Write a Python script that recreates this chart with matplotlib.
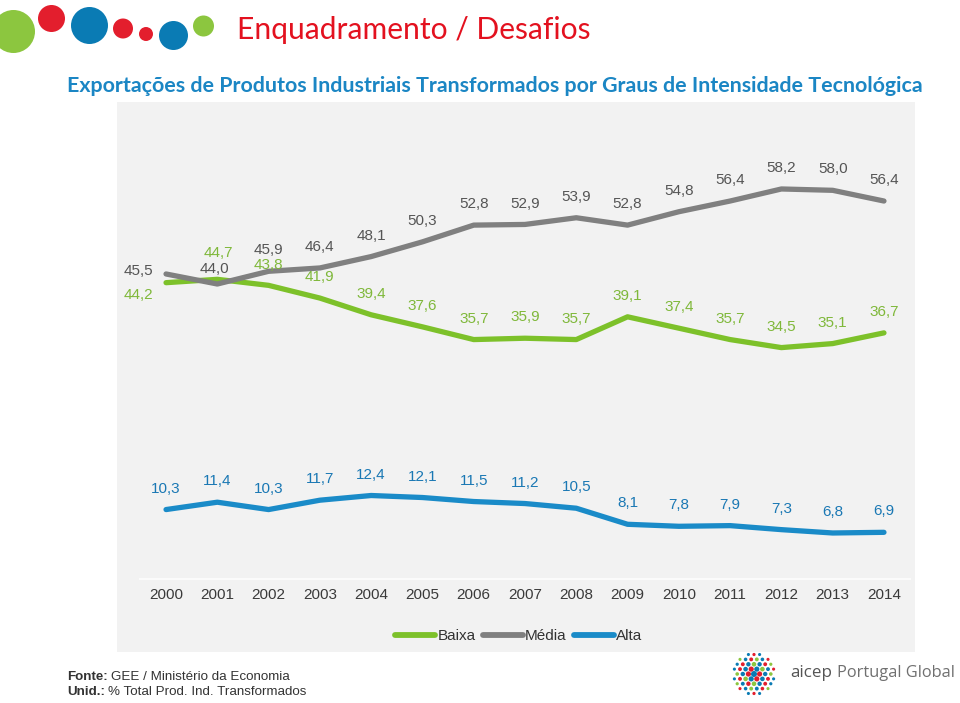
import matplotlib
matplotlib.use('Agg')
import matplotlib.pyplot as plt
from matplotlib.patches import Rectangle, Circle
import numpy as np

# ---------------- data ----------------
years = ['2000', '2001', '2002', '2003', '2004', '2005', '2006', '2007',
         '2008', '2009', '2010', '2011', '2012', '2013', '2014']
baixa = [44.2, 44.7, 43.8, 41.9, 39.4, 37.6, 35.7, 35.9, 35.7, 39.1, 37.4, 35.7, 34.5, 35.1, 36.7]
media = [45.5, 44.0, 45.9, 46.4, 48.1, 50.3, 52.8, 52.9, 53.9, 52.8, 54.8, 56.4, 58.2, 58.0, 56.4]
alta = [10.3, 11.4, 10.3, 11.7, 12.4, 12.1, 11.5, 11.2, 10.5, 8.1, 7.8, 7.9, 7.3, 6.8, 6.9]
series_names = ['Baixa', 'Média', 'Alta']

title = 'Enquadramento / Desafios'
subtitle = 'Exportações de Produtos Industriais Transformados por Graus de Intensidade Tecnológica'

# ---------------- style ----------------
W, H = 960, 703
fig = plt.figure(figsize=(W / 100, H / 100), dpi=100)
renderer = fig.canvas.get_renderer()

def fx(px):
    return px / W

def fy(py):
    return 1 - py / H

# overlay axes in pixel coordinates (for decorations)
ov = fig.add_axes([0, 0, 1, 1], zorder=0)
ov.set_xlim(0, W)
ov.set_ylim(H, 0)
ov.axis('off')

GREEN = '#8cc63f'
RED = '#e31e2d'
BLUE = '#0a7bb4'

# chart panel
ov.add_patch(Rectangle((117, 102), 915 - 117, 652 - 102, facecolor='#f2f2f2', edgecolor='none'))

# decorative circles
for (cx, cy, r, c) in [(13.5, 31.5, 21.5, GREEN), (51.5, 18.5, 13.5, RED), (89.5, 25.5, 18.5, BLUE),
                       (123, 28.5, 10, RED), (146, 34, 7, RED), (173.5, 35.5, 14.5, BLUE),
                       (203.5, 26, 10.5, GREEN)]:
    ov.add_patch(Circle((cx, cy), r, facecolor=c, edgecolor='none'))


def fit_text(x, y, s, target_w, ha='left', **kw):
    t = ov.text(x, y, s, ha=ha, va='center', **kw)
    for _ in range(3):
        w = t.get_window_extent(renderer=renderer).width
        t.set_fontsize(t.get_fontsize() * target_w / w)
    return t

fit_text(237, 30, title, 353, color='#e3111f', fontsize=22, family='Lato')
fit_text(67, 86, subtitle, 854, color='#1b86c4', fontsize=14, family='Lato', fontweight='bold')

# footer
foot_font = dict(family='Liberation Sans', fontsize=9.6, color='#333333')
t1 = ov.text(67, 677, 'Fonte:', va='center', fontweight='bold', **foot_font)
w1 = t1.get_window_extent(renderer=renderer).width
ov.text(67 + w1 + 3, 677, 'GEE / Ministério da Economia', va='center', **foot_font)
t2 = ov.text(67, 692, 'Unid.:', va='center', fontweight='bold', **foot_font)
w2 = t2.get_window_extent(renderer=renderer).width
ov.text(67 + w2 + 3, 692, '% Total Prod. Ind. Transformados', va='center', **foot_font)

# logo dots
logo_cols = [BLUE, RED, BLUE, GREEN, BLUE, RED, GREEN, BLUE, RED]
k = 0
step = 5.6
for row in range(-4, 5):
    yy = 674 + row * step * 0.87
    for col in range(-4, 5):
        xx = 754 + col * step + (step / 2 if row % 2 else 0)
        d = np.hypot(xx - 754, yy - 674)
        if d > 21:
            continue
        rr = 3.0 - 1.5 * d / 21
        ov.add_patch(Circle((xx, yy), rr, facecolor=logo_cols[k % len(logo_cols)], edgecolor='none'))
        k += 1
ta = fit_text(790, 673, 'aicep', 42, color='#555555', fontsize=12, family='Open Sans')
wa = ta.get_window_extent(renderer=renderer).width
fit_text(790 + wa + 5, 673, 'Portugal Global', 118, color='#707070', fontsize=12, family='Open Sans')

# ---------------- chart ----------------
ax = fig.add_axes([fx(140.4), fy(578.5), fx(909.6) - fx(140.4), fy(110) - fy(578.5)], zorder=1)
ax.patch.set_alpha(0)
x = np.arange(len(years))
ax.set_xlim(-0.5, len(years) - 0.5)
ax.set_ylim(0, 70)

line_cols = {'Baixa': '#7dc12a', 'Média': '#808080', 'Alta': '#1a8bc8'}
label_cols = {'Baixa': '#7fb83a', 'Média': '#555555', 'Alta': '#1a78b4'}
all_vals = {'Baixa': baixa, 'Média': media, 'Alta': alta}

for name in series_names:
    ax.plot(x, all_vals[name], color=line_cols[name], lw=3.8, solid_joinstyle='round',
            solid_capstyle='round', label=name)

# label offsets (in points), default above the point
special = {('Média', 0): (-20, 2), ('Baixa', 0): (-20, -9), ('Média', 1): (-2, 11),
           ('Baixa', 1): (1, 19)}
for name in series_names:
    for i, v in enumerate(all_vals[name]):
        off = special.get((name, i), (0, 15))
        ax.annotate(f'{v:.1f}'.replace('.', ','), (x[i], v), xytext=off, textcoords='offset points',
                    ha='center', va='center', fontsize=11, family='Liberation Sans',
                    color=label_cols[name])

ax.set_xticks(x)
ax.set_xticklabels(years, fontsize=11, family='Liberation Sans', color='#3a3a3a')
ax.tick_params(axis='x', length=0, pad=7)
ax.set_yticks([])
for s in ['top', 'right', 'left']:
    ax.spines[s].set_visible(False)
ax.spines['bottom'].set_color('#fbfbfb')
ax.spines['bottom'].set_linewidth(1.5)

leg = fig.legend(loc='center', bbox_to_anchor=(fx(519), fy(636)), ncol=3, frameon=False,
                 prop={'family': 'Liberation Sans', 'size': 11}, handlelength=2.6,
                 handletextpad=0.15, columnspacing=0.5)
for t in leg.get_texts():
    t.set_color('#333333')
for l in leg.get_lines():
    l.set_linewidth(4.2)

fig.savefig('out.png', dpi=100)
